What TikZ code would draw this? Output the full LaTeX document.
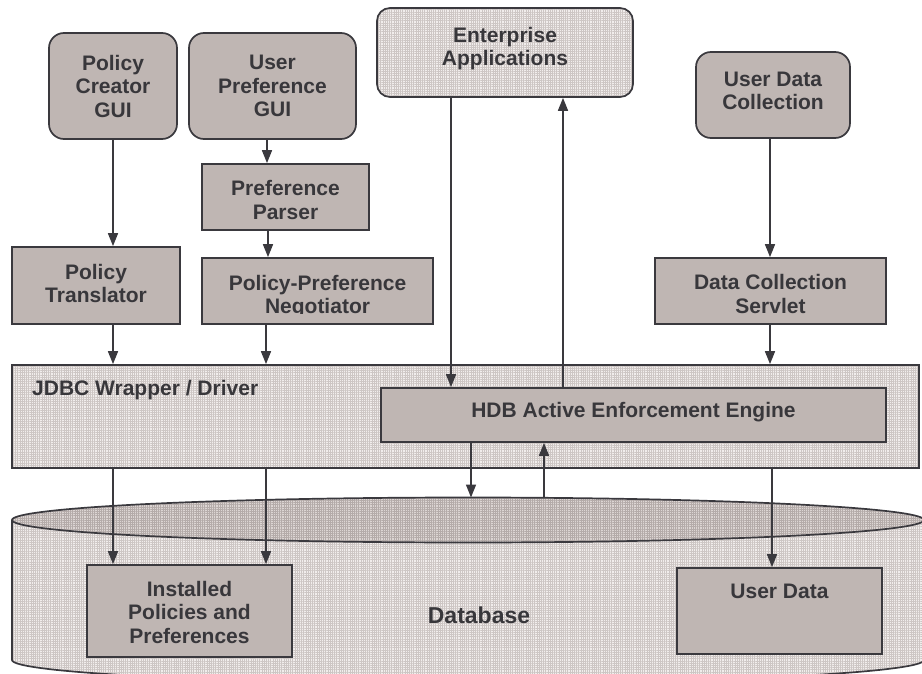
\documentclass[tikz,border=0pt]{standalone}
\usepackage{fontspec}
\setmainfont{Liberation Sans}
\usetikzlibrary{arrows.meta,patterns.meta}

\definecolor{boxfill}{HTML}{BFB6B3}
\definecolor{edge}{HTML}{3A393E}
\definecolor{ink}{HTML}{38373B}
\definecolor{gridbase}{HTML}{F1EDEC}
\definecolor{gridline}{HTML}{CDC6C4}
\definecolor{topbase}{HTML}{DCD5D3}
\definecolor{topline}{HTML}{B4ABA9}

\newcommand\labelfont{\fontsize{21}{23.5}\selectfont\bfseries}
\newcommand\bigfont{\fontsize{23}{26}\selectfont\bfseries}

\tikzset{
  caption/.style={align=center, text=ink, font=\labelfont, inner sep=0pt},
  every label/.style={caption},
  module/.style={draw=edge, line width=1.7pt, fill=boxfill, inner sep=0pt},
  gui/.style={module, rounded corners=15pt},
  meshfill/.style={preaction={fill=gridbase},
    pattern={Hatch[angle=0,distance=2.2pt,line width=0.45pt]}, pattern color=gridline},
  topmesh/.style={preaction={fill=topbase},
    pattern={Hatch[angle=0,distance=2.2pt,line width=0.45pt]}, pattern color=topline},
  flow/.style={draw=edge, line width=1.5pt, -{Triangle[length=13pt,width=10pt]}},
}

\begin{document}
\begin{tikzpicture}[x=1pt, y=-1pt]
\useasboundingbox (0,0) rectangle (922,674);
\clip (0,0) rectangle (922,674);

% vertical lanes of the connectors
\coordinate (laneA) at (113,0);
\coordinate (laneB) at (267,0);
\coordinate (laneC) at (451,0);
\coordinate (laneD) at (563,0);
\coordinate (laneE) at (770,0);
\coordinate (laneF) at (471,0);
\coordinate (laneG) at (544,0);
\coordinate (laneH) at (772,0);

% database cylinder
\path[meshfill] (12,520) -- (12,660)
  arc[start angle=180, end angle=0, x radius=456, y radius=23]
  -- (924,520) -- cycle;
\draw[edge, line width=1.7pt] (12,520) -- (12,660)
  arc[start angle=180, end angle=0, x radius=456, y radius=23]
  -- (924,520);
\path[topmesh, draw=edge, line width=1.7pt] (468,520) ellipse [x radius=456, y radius=22.5];
\coordinate (dbtop) at (468,497.5);
\node[caption, font=\bigfont] (dblabel) at (479,615) {Database};

% storage inside the database
\node[module, minimum width=205pt, minimum height=92pt,
  label={[yshift=-1pt]center:{Installed\\Policies and\\Preferences}}] (ipp) at (189.5,611) {};
\node[module, minimum width=205pt, minimum height=86pt] (ud) at (779.5,611) {};
\node[caption] (udlabel) at (779.5,591) {User Data};

% tools on the top row
\node[gui, minimum width=128pt, minimum height=106pt,
  label={center:{Policy\\Creator\\GUI}}] (pcg) at (113,86) {};
\node[gui, minimum width=167pt, minimum height=106pt,
  label={center:{User\\Preference\\GUI}}] (upg) at (272.5,86) {};
\node[module, minimum width=167pt, minimum height=66pt,
  label={[yshift=-3pt]center:{Preference\\Parser}}] (pp) at (285.5,197) {};
\node[module, minimum width=168pt, minimum height=77pt,
  label={[yshift=2pt]center:{Policy\\Translator}}] (pt) at (96,285.5) {};
\node[module, minimum width=231pt, minimum height=66pt] (neg) at (317.5,291) {};
\begin{scope}
  \clip ([xshift=1pt]neg.north west) rectangle ([yshift=11pt]neg.south east);
  \node[caption] (negtext) at ([yshift=-5.5pt]neg.center) {Policy-Preference\\Negotiator};
\end{scope}

\node[module, rounded corners=13pt, meshfill, minimum width=256pt, minimum height=89pt,
  label={[yshift=4pt]center:{Enterprise\\Applications}}] (ent) at (505,52.5) {};
\node[gui, minimum width=154pt, minimum height=86pt,
  label={[yshift=4pt]center:{User Data\\Collection}}] (udc) at (773,95) {};
\node[module, minimum width=231pt, minimum height=66pt,
  label={[yshift=-3pt]center:{Data Collection\\Servlet}}] (dcs) at (770.5,291) {};

% driver layer
\node[module, meshfill, minimum width=907pt, minimum height=103pt] (jdbc) at (465.5,416.5) {};
\node[caption, anchor=west] (jdbctext) at (32,390) {JDBC Wrapper / Driver};
\node[module, minimum width=505pt, minimum height=54pt,
  label={[yshift=3pt]center:HDB Active Enforcement Engine}] (hdb) at (633.5,415) {};

% connectors
\draw[flow] (laneA |- pcg.south) -- (laneA |- pt.north);
\draw[flow] (laneB |- upg.south) -- (laneB |- pp.north);
\draw[flow] ([xshift=1pt]laneB |- pp.south) -- ([xshift=1pt]laneB |- neg.north);
\draw[flow] (laneA |- pt.south) -- (laneA |- jdbc.north);
\draw[flow] ([xshift=-1pt]laneB |- neg.south) -- ([xshift=-1pt]laneB |- jdbc.north);
\draw[flow] (laneC |- ent.south) -- (laneC |- hdb.north);
\draw[flow] (laneD |- hdb.north) -- (laneD |- ent.south);
\draw[flow] (laneE |- udc.south) -- (laneE |- dcs.north);
\draw[flow] (laneE |- dcs.south) -- (laneE |- jdbc.north);

\draw[flow] (laneF |- hdb.south) -- (laneF |- dbtop);
\draw[flow] (laneG |- dbtop) -- (laneG |- hdb.south);
\draw[flow] (laneA |- jdbc.south) -- (laneA |- ipp.north);
\draw[flow] ([xshift=-1pt]laneB |- jdbc.south) -- ([xshift=-1pt]laneB |- ipp.north);
\draw[flow] (laneH |- jdbc.south) -- (laneH |- ud.north);
\end{tikzpicture}
\end{document}
